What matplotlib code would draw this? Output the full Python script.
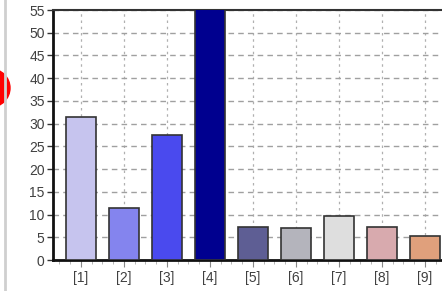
import matplotlib
matplotlib.use("Agg")
import matplotlib.pyplot as plt
from matplotlib.patches import Ellipse
from matplotlib.lines import Line2D
import numpy as np

categories = ["[1]", "[2]", "[3]", "[4]", "[5]", "[6]", "[7]", "[8]", "[9]"]
values = [31.5, 11.5, 27.5, 60, 7.2, 7.0, 9.6, 7.3, 5.2]
colors = ["#c6c4ee", "#8484ee", "#4a4aee", "#00008f", "#5e5e94",
          "#b4b4bc", "#dedede", "#d8aaae", "#e0a07c"]
yticks = list(range(0, 60, 5))

fig = plt.figure(figsize=(4.42, 2.91), dpi=100)
W, H = 442, 291
ax = fig.add_axes([53 / W, 31 / H, (W - 53) / W, 250 / H])

x = np.arange(1, len(categories) + 1)
ax.bar(x, values, width=0.7, color=colors, edgecolor="#333333", linewidth=1.2, zorder=3)

ax.set_xlim(0.35, 9.4)
ax.set_ylim(0, 55)
ax.set_yticks(yticks)
ax.set_xticks(x)
ax.set_xticklabels(categories)
ax.set_xticks(np.arange(0.5, 9.5, 0.25), minor=True)
ax.yaxis.grid(True, which="major", color="#a0a0a0", linestyle=(0, (4, 3)), linewidth=1.0, zorder=0)
ax.xaxis.grid(True, which="major", color="#b0b0b0", linestyle=(0, (2, 3)), linewidth=0.9, zorder=0)

for lbl in ax.get_yticklabels() + ax.get_xticklabels():
    lbl.set_color("#404040")
    lbl.set_fontsize(10)
    lbl.set_family(["Liberation Sans", "DejaVu Sans"])

ax.tick_params(axis="y", length=4, width=1, color="#333333", pad=2)
ax.tick_params(axis="x", which="major", length=5, width=0.8, color="#888888", pad=3)
ax.tick_params(axis="x", which="minor", length=3, width=0.6, color="#aaaaaa")

for s in ["left", "bottom"]:
    ax.spines[s].set_linewidth(2)
    ax.spines[s].set_color("#111111")
ax.spines["top"].set_linewidth(1.5)
ax.spines["top"].set_color("#333333")
ax.spines["right"].set_visible(False)

# left screenshot artifacts
fig.add_artist(Line2D([5 / W, 5 / W], [0, 1], color="#cfcfcf", linewidth=2))
fig.add_artist(Ellipse((-9 / W, 1 - 88 / H), 38 / W, 38 / H, color="#ff0000",
                       transform=fig.transFigure))

fig.savefig("out.png", dpi=100)
